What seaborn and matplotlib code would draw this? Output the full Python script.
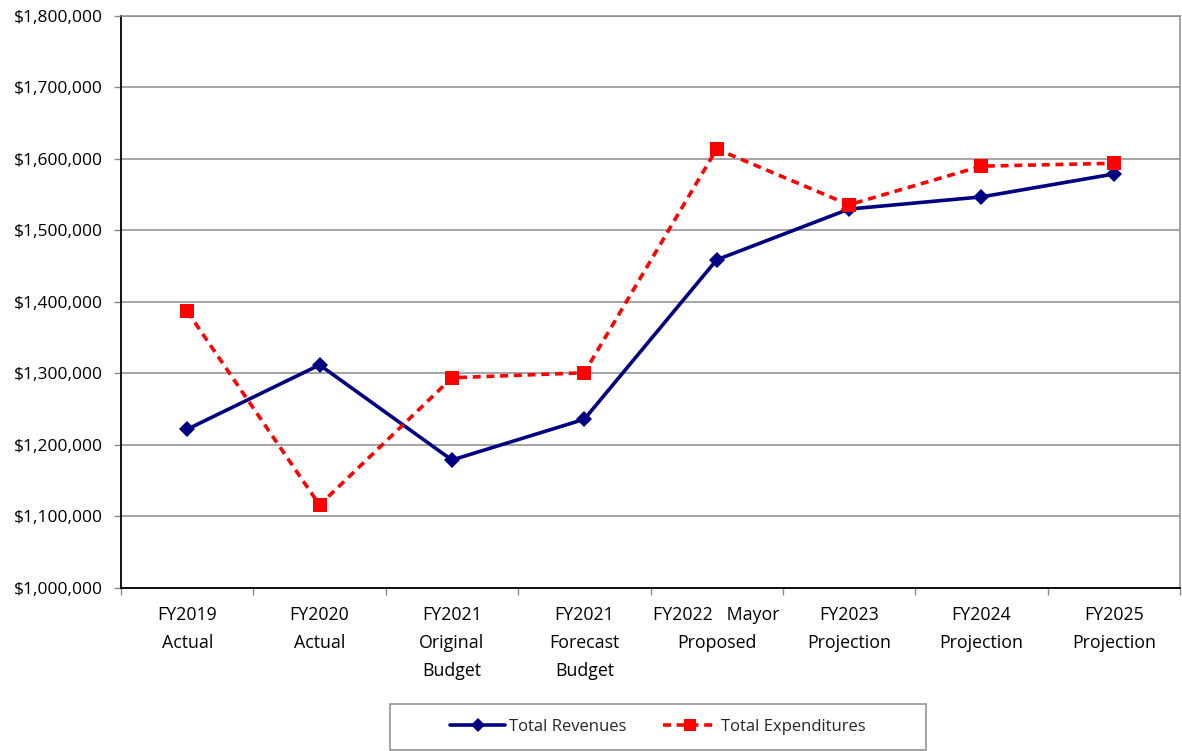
import matplotlib
matplotlib.use("Agg")
import matplotlib.pyplot as plt
from matplotlib.patches import Rectangle
from matplotlib.ticker import FuncFormatter, FixedLocator, NullFormatter
import numpy as np
import pandas as pd
import seaborn as sns

# Fiscal-year categories and the two series (dollars)
periods = [
    "FY2019\nActual",
    "FY2020\nActual",
    "FY2021\nOriginal\nBudget",
    "FY2021\nForecast\nBudget",
    "FY2022   Mayor\nProposed",
    "FY2023\nProjection",
    "FY2024\nProjection",
    "FY2025\nProjection",
]
total_revenues = [1222000, 1312000, 1179000, 1236000, 1459000, 1530000, 1547000, 1579000]
total_expenditures = [1387000, 1116000, 1294000, 1301000, 1614000, 1536000, 1590000, 1594000]
y_ticks = [1000000, 1100000, 1200000, 1300000, 1400000, 1500000, 1600000, 1700000, 1800000]

sns.set_theme(style="white")
plt.rcParams["font.family"] = ["Open Sans", "DejaVu Sans"]

W, H = 1182, 751

df = pd.DataFrame({
    "pos": np.arange(len(periods)),
    "Total Revenues": total_revenues,
    "Total Expenditures": total_expenditures,
}).melt(id_vars="pos", var_name="series", value_name="amount")

fig = plt.figure(figsize=(W / 100, H / 100), dpi=100)
ax = fig.add_axes([121 / W, 163 / H, 1059 / W, 572 / H])

sns.lineplot(
    data=df, x="pos", y="amount", hue="series", style="series",
    palette={"Total Revenues": "#000080", "Total Expenditures": "#FF0000"},
    markers={"Total Revenues": "D", "Total Expenditures": "s"},
    dashes={"Total Revenues": "", "Total Expenditures": (2.2, 1.6)},
    markersize=9, markeredgewidth=0, linewidth=2.6, sort=False,
    legend=False, ax=ax, zorder=3,
)
# square markers are a touch larger than the diamonds
for line in ax.get_lines():
    if line.get_marker() == "s":
        line.set_markersize(10)
    else:
        line.set_markersize(8.5)

ax.set_xlim(-0.5, len(periods) - 0.5)
ax.set_ylim(y_ticks[0], y_ticks[-1])
ax.set_xlabel("")
ax.set_ylabel("")

# y axis: dollar ticks with horizontal grid
ax.yaxis.set_major_locator(FixedLocator(y_ticks))
ax.yaxis.set_major_formatter(FuncFormatter(lambda v, p: f"${v:,.0f}"))
ax.grid(axis="y", color="#8c8c8c", linewidth=1.1)
ax.grid(axis="x", visible=False)

# x axis: tick marks at category boundaries, labels at category centres
ax.xaxis.set_major_locator(FixedLocator(np.arange(-0.5, len(periods), 1.0)))
ax.xaxis.set_major_formatter(NullFormatter())
ax.xaxis.set_minor_locator(FixedLocator(np.arange(len(periods))))
ax.set_xticklabels(periods, minor=True)
ax.tick_params(axis="x", which="major", length=5, width=1, color="#8c8c8c", direction="out", bottom=True)
ax.tick_params(axis="x", which="minor", length=0, pad=13, labelsize=12.8, colors="black")
ax.tick_params(axis="y", which="major", length=5, width=1, color="#8c8c8c", direction="out", left=True,
               pad=8, labelsize=12.5, labelcolor="black")
for lbl in ax.get_xticklabels(minor=True):
    lbl.set_multialignment("center")
    lbl.set_linespacing(1.72)

for side in ["left", "bottom"]:
    ax.spines[side].set_color("black")
    ax.spines[side].set_linewidth(1.3)
for side in ["top", "right"]:
    ax.spines[side].set_color("#8c8c8c")
    ax.spines[side].set_linewidth(1.1)

# legend box below the plot
fig.patches.append(Rectangle((390 / W, 1 - 750 / H), 536 / W, 46 / H, transform=fig.transFigure,
                             facecolor="white", edgecolor="#8c8c8c", linewidth=1.1, zorder=1))
handles = [
    plt.Line2D([], [], color="#000080", linewidth=2.6, marker="D", markersize=7, markeredgewidth=0),
    plt.Line2D([], [], color="#FF0000", linewidth=2.6, linestyle=(0, (2.2, 1.6)), marker="s",
               markersize=8, markeredgewidth=0),
]
leg = fig.legend(
    handles, ["Total Revenues", "Total Expenditures"],
    loc="center", bbox_to_anchor=(658 / W, 1 - 727 / H), ncol=2,
    frameon=False, fontsize=12, handlelength=3.3, handletextpad=0.2, columnspacing=2.2,
)
leg.set_zorder(2)

fig.savefig("out.png", dpi=100)
